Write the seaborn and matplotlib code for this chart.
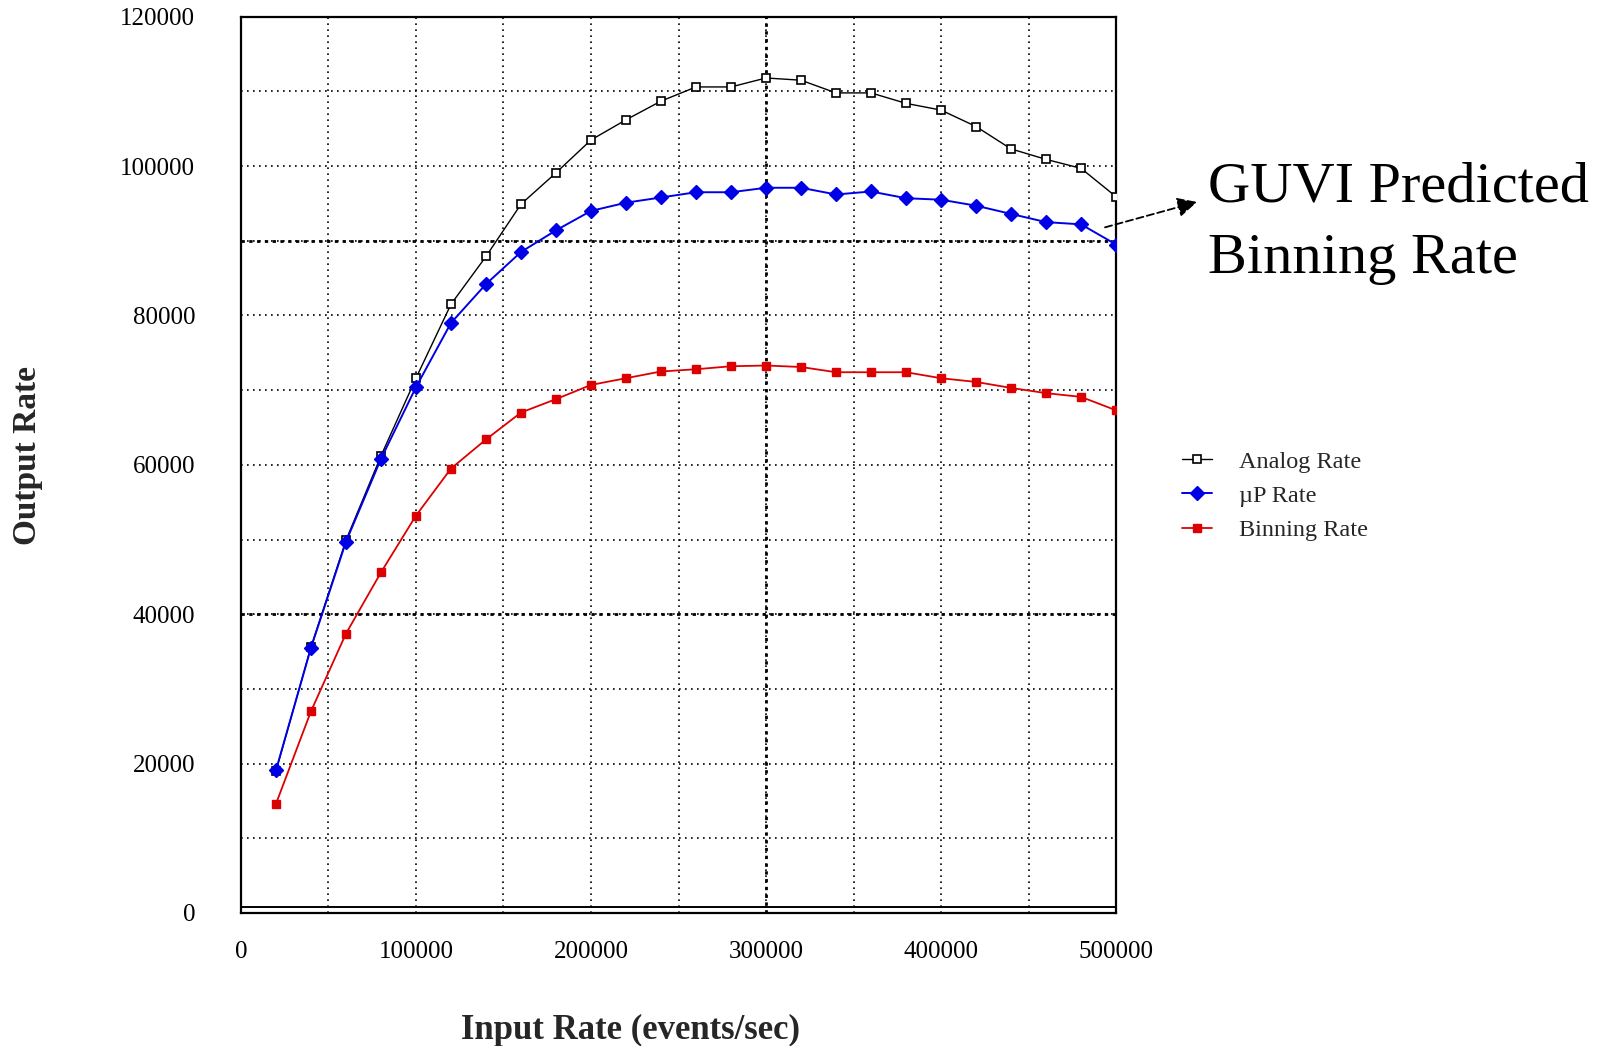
import numpy as np
import pandas as pd
import matplotlib
matplotlib.use("Agg")
import matplotlib.pyplot as plt
from matplotlib.ticker import MultipleLocator
import seaborn as sns

# ---- data ----
input_rate = [20000, 40000, 60000, 80000, 100000, 120000, 140000, 160000, 180000,
              200000, 220000, 240000, 260000, 280000, 300000, 320000, 340000,
              360000, 380000, 400000, 420000, 440000, 460000, 480000, 500000]
analog_rate = [19000, 35600, 49900, 61200, 71600, 81500, 87900, 94900, 99100,
               103500, 106200, 108700, 110600, 110600, 111800, 111500, 109800,
               109800, 108400, 107500, 105300, 102300, 100900, 99700, 95900]
up_rate = [19100, 35500, 49700, 60800, 70400, 79000, 84200, 88500, 91400,
           94000, 95100, 95800, 96500, 96500, 97100, 97100, 96200,
           96600, 95700, 95500, 94700, 93600, 92500, 92200, 89500]
binning_rate = [14600, 27000, 37400, 45600, 53200, 59500, 63400, 67000, 68800,
                70700, 71600, 72500, 72800, 73200, 73300, 73100, 72400,
                72400, 72400, 71600, 71100, 70300, 69600, 69100, 67300]
series_labels = ["Analog Rate", "\u00b5P Rate", "Binning Rate"]
x_ticks = [0, 100000, 200000, 300000, 400000, 500000]
y_ticks = [0, 20000, 40000, 60000, 80000, 100000, 120000]

sns.set_style("white")
plt.rcParams["font.family"] = ["Liberation Serif", "DejaVu Serif"]

fig = plt.figure(figsize=(16.01, 10.46), dpi=100)
ax = fig.add_axes([0.1505, 0.1272, 0.5466, 0.8568])

sns.lineplot(x=input_rate, y=analog_rate, ax=ax, color="black", lw=1.0,
             marker="s", markersize=6, markerfacecolor="white",
             markeredgecolor="black", markeredgewidth=1.2,
             label=series_labels[0], zorder=3)
sns.lineplot(x=input_rate, y=up_rate, ax=ax, color="#0000e6", lw=1.4,
             marker="D", markersize=7, markerfacecolor="#0000e6",
             markeredgecolor="#0000e6", markeredgewidth=1.0,
             label=series_labels[1], zorder=4)
sns.lineplot(x=input_rate, y=binning_rate, ax=ax, color="#dd0000", lw=1.3,
             marker="s", markersize=6, markerfacecolor="#dd0000",
             markeredgecolor="#dd0000", markeredgewidth=1.0,
             label=series_labels[2], zorder=3)

ax.set_xlim(0, 500000)
ax.set_ylim(0, 120000)
ax.set_xticks(x_ticks)
ax.set_xticklabels([str(v) for v in x_ticks])
ax.set_yticks(y_ticks)
ax.set_yticklabels([str(v) for v in y_ticks])
ax.xaxis.set_minor_locator(MultipleLocator(50000))
ax.yaxis.set_minor_locator(MultipleLocator(10000))

ax.set_axisbelow(True)
ax.grid(which="both", axis="both", color="black", lw=1.2,
        linestyle=(0, (1, 2.6)))
for yv in (40000, 90000):
    ax.axhline(yv, color="black", lw=2.0, linestyle=(0, (1.2, 1.6)), zorder=1)
ax.axvline(300000, color="black", lw=2.0, linestyle=(0, (1.2, 1.6)), zorder=1)
ax.axhline(800, color="black", lw=1.4, zorder=2)

for s in ax.spines.values():
    s.set_visible(True)
    s.set_color("black")
    s.set_linewidth(1.6)

ax.tick_params(axis="both", which="major", direction="out", length=7,
               width=1.3, color="black", labelsize=18, labelcolor="black")
ax.tick_params(axis="both", which="minor", direction="out", length=4,
               width=1.2, color="black")
ax.tick_params(axis="y", which="major", pad=26)
ax.tick_params(axis="x", which="major", pad=13)

ax.set_xlabel("Input Rate (events/sec)", fontsize=25, fontweight="bold")
ax.set_ylabel("Output Rate", fontsize=24, fontweight="bold")
ax.xaxis.set_label_coords(0.4446, -0.113)
ax.yaxis.set_label_coords(-0.226, 0.51)

leg = ax.legend(loc="upper left", bbox_to_anchor=(0.7383, 0.5690),
                bbox_transform=fig.transFigure, frameon=False, fontsize=17.5,
                handlelength=1.25, handletextpad=1.1, labelspacing=0.5,
                borderpad=0, borderaxespad=0)

fig.text(0.7545, 0.8069, "GUVI Predicted", fontsize=42, va="baseline",
         ha="left", color="black")
fig.text(0.7545, 0.739, "Binning Rate", fontsize=42, va="baseline",
         ha="left", color="black")
ax.annotate("", xy=(0.7477, 0.8069), xycoords="figure fraction",
            xytext=(493700, 91800), textcoords="data",
            arrowprops=dict(arrowstyle="-|>", color="black", lw=1.3,
                            linestyle=(0, (4, 2)), mutation_scale=30,
                            shrinkA=0, shrinkB=0),
            annotation_clip=False)

fig.savefig("out.png", dpi=100, facecolor="white")
